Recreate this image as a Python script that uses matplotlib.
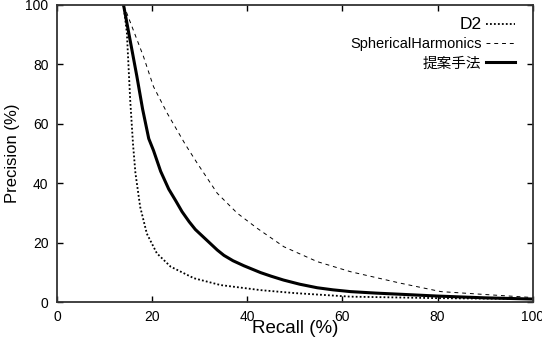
import matplotlib.pyplot as plt

plt.rcParams['font.family'] = ['Liberation Sans', 'Noto Sans CJK JP', 'DejaVu Sans']

# Recall / Precision values (%)
d2_recall = [14.0, 14.7, 15.4, 16.0, 16.5, 17.5, 18.9, 21.0, 23.9, 28.8, 34.4, 42.8, 50.0, 61.7, 80.0, 100.0]
d2_prec = [100.0, 90.6, 68.0, 53.0, 43.4, 32.0, 23.0, 16.4, 11.9, 8.0, 5.7, 4.0, 3.0, 1.8, 1.3, 1.0]

sh_recall = [14.0, 14.7, 18.2, 20.3, 23.2, 27.0, 29.5, 33.7, 37.9, 42.1, 47.7, 54.7, 61.7, 72.3, 80.7, 91.2, 100.0]
sh_prec = [100.0, 97.2, 82.6, 72.5, 63.5, 53.0, 46.7, 36.6, 29.9, 24.8, 18.6, 13.6, 10.2, 6.3, 3.5, 2.4, 1.5]

prop_recall = [14.0, 15.4, 16.8, 18.0, 19.3, 20.3, 21.8, 23.5, 25.0, 26.3, 27.8, 29.1, 30.7, 32.3,
               33.7, 35.1, 37.0, 39.3, 42.8, 45.0, 47.6, 51.0, 54.7, 58.0, 61.7, 67.0, 72.3, 80.0, 90.0, 100.0]
prop_prec = [100.0, 88.0, 76.0, 65.0, 55.0, 51.0, 44.0, 38.0, 34.0, 30.4, 27.0, 24.4, 22.0, 19.6,
             17.5, 15.7, 13.9, 12.2, 9.9, 8.7, 7.4, 6.0, 4.8, 4.1, 3.5, 3.0, 2.6, 2.0, 1.4, 1.0]

labels = ['D2', 'SphericalHarmonics', '提案手法']
xticks = [0, 20, 40, 60, 80, 100]
yticks = [0, 20, 40, 60, 80, 100]

fig = plt.figure(figsize=(5.42, 3.43), dpi=100)
ax = fig.add_axes([0.105, 0.1195, 0.878, 0.866])

ax.plot(d2_recall, d2_prec, color='black', linestyle=(0, (1, 1.2)), linewidth=1.3, label=labels[0])
ax.plot(sh_recall, sh_prec, color='black', linestyle=(0, (4, 4)), linewidth=0.7, label=labels[1])
ax.plot(prop_recall, prop_prec, color='black', linestyle='-', linewidth=2.2, label=labels[2])

ax.set_xlim(0, 100)
ax.set_ylim(0, 100)
ax.set_xticks(xticks)
ax.set_yticks(yticks)
ax.tick_params(direction='in', top=True, right=True, length=4, width=1, labelsize=10, pad=6)
for s in ax.spines.values():
    s.set_linewidth(1.3)
    s.set_color('#333333')

ax.set_xlabel('Recall (%)', fontsize=13.5, labelpad=-3)
ax.set_ylabel('Precision (%)', fontsize=12, labelpad=4)

leg = ax.legend(loc='upper right', bbox_to_anchor=(0.975, 0.978), frameon=False, markerfirst=False,
                fontsize=10.5, handlelength=2.0, handletextpad=0.3, labelspacing=0.35,
                borderaxespad=0.0)
leg.get_texts()[0].set_fontsize(12.5)

fig.savefig('out.png', dpi=100)
